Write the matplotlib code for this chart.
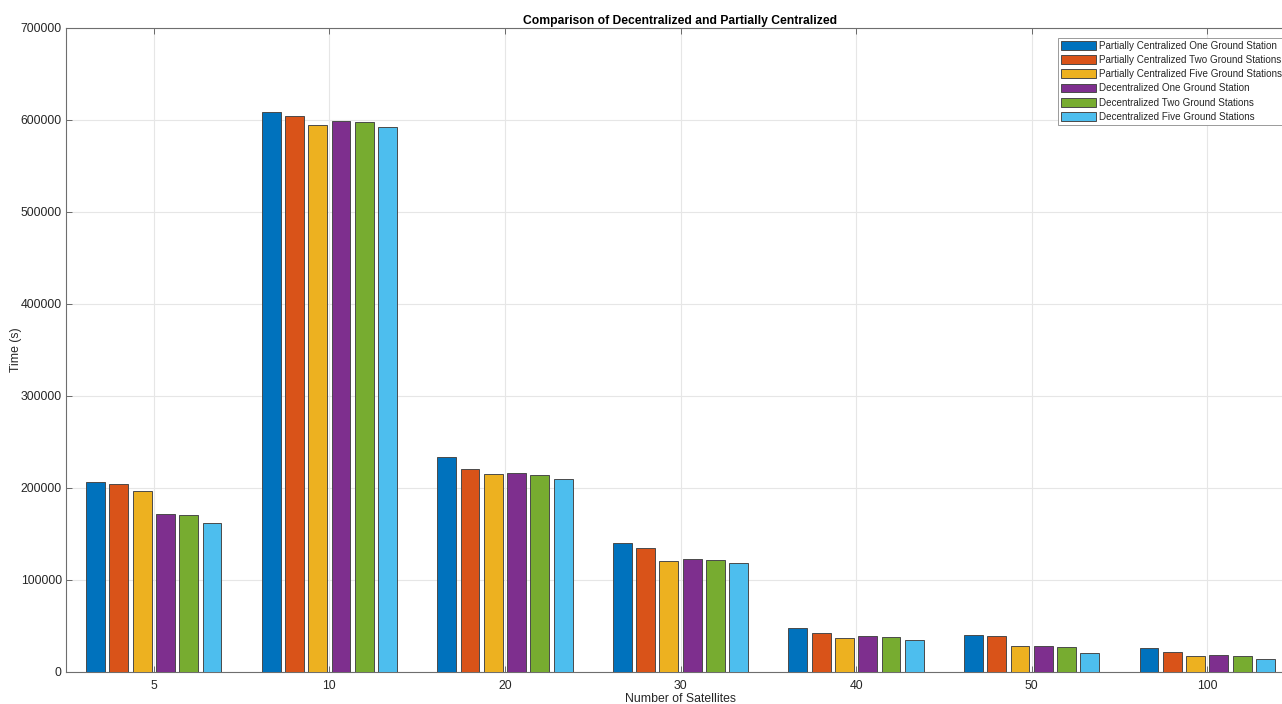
import numpy as np
import matplotlib
matplotlib.use("Agg")
import matplotlib.pyplot as plt

plt.rcParams['font.family'] = ['Liberation Sans', 'DejaVu Sans']

satellites = ['5', '10', '20', '30', '40', '50', '100']

pc_one = [206200, 608700, 233400, 139900, 47500, 40600, 25700]
pc_two = [204700, 604000, 221000, 134400, 42000, 39500, 22100]
pc_five = [196400, 594200, 214900, 121000, 36600, 27900, 17000]
dc_one = [171400, 598600, 216000, 122500, 39100, 28600, 18100]
dc_two = [170700, 597500, 213800, 122100, 37700, 26800, 17400]
dc_five = [162300, 592100, 209400, 118500, 34400, 20300, 13800]

series_names = [
    'Partially Centralized One Ground Station',
    'Partially Centralized Two Ground Stations',
    'Partially Centralized Five Ground Stations',
    'Decentralized One Ground Station',
    'Decentralized Two Ground Stations',
    'Decentralized Five Ground Stations',
]
series_values = [pc_one, pc_two, pc_five, dc_one, dc_two, dc_five]
colors = ['#0072BD', '#D95319', '#EDB120', '#7E2F8E', '#77AC30', '#4DBEEE']

W, H = 1282, 704
fig = plt.figure(figsize=(W / 100, H / 100), dpi=100)
left, right, top, bottom = 66, 1295, 28, 672
ax = fig.add_axes([left / W, 1 - bottom / H, (right - left) / W, (bottom - top) / H])

x = np.arange(len(satellites))
pitch = 0.1327
bar_w = 0.107
for i, (name, vals, col) in enumerate(zip(series_names, series_values, colors)):
    ax.bar(x + (i - 2.5) * pitch, vals, width=bar_w, color=col,
           edgecolor='#4a4a4a', linewidth=0.7, label=name, zorder=3)

ax.set_xlim(-0.5, len(satellites) - 0.5)
ax.set_ylim(0, 700000)
ax.set_xticks(x)
ax.set_xticklabels(satellites)
ax.set_yticks(np.arange(0, 700001, 100000))
ax.set_yticklabels([str(v) for v in range(0, 700001, 100000)])

ax.grid(True, color='#e6e6e6', linewidth=0.8, zorder=0)
ax.set_axisbelow(True)
ax.tick_params(axis='both', direction='in', length=4, width=0.6, colors='#555555',
               labelcolor='#262626', labelsize=8.8, top=True, right=True)
ax.tick_params(axis='x', pad=6)
ax.tick_params(axis='y', pad=3)
for s in ax.spines.values():
    s.set_color('#6e6e6e')
    s.set_linewidth(0.8)

ax.set_xlabel('Number of Satellites', fontsize=8.8, color='#262626')
ax.xaxis.set_label_coords(0.5, (bottom - 693) / (bottom - top))
ax.set_ylabel('Time (s)', fontsize=8.8, color='#262626')
ax.yaxis.set_label_coords((22 - left) / (right - left), 0.5)
ax.set_title('Comparison of Decentralized and Partially Centralized',
             fontsize=8.7, fontweight='bold', color='black', pad=3)

leg = ax.legend(loc='upper left', bbox_to_anchor=(1058 / W, 1 - 38 / H),
                bbox_transform=fig.transFigure, fontsize=7.1, frameon=True,
                fancybox=False, edgecolor='#8a8a8a', framealpha=1,
                handlelength=3.6, handleheight=1.0, handletextpad=0.3,
                labelspacing=0.42, borderpad=0.3, borderaxespad=0)
leg.get_frame().set_linewidth(0.6)
for t in leg.get_texts():
    t.set_color('#262626')

fig.savefig('out.png', dpi=100)
